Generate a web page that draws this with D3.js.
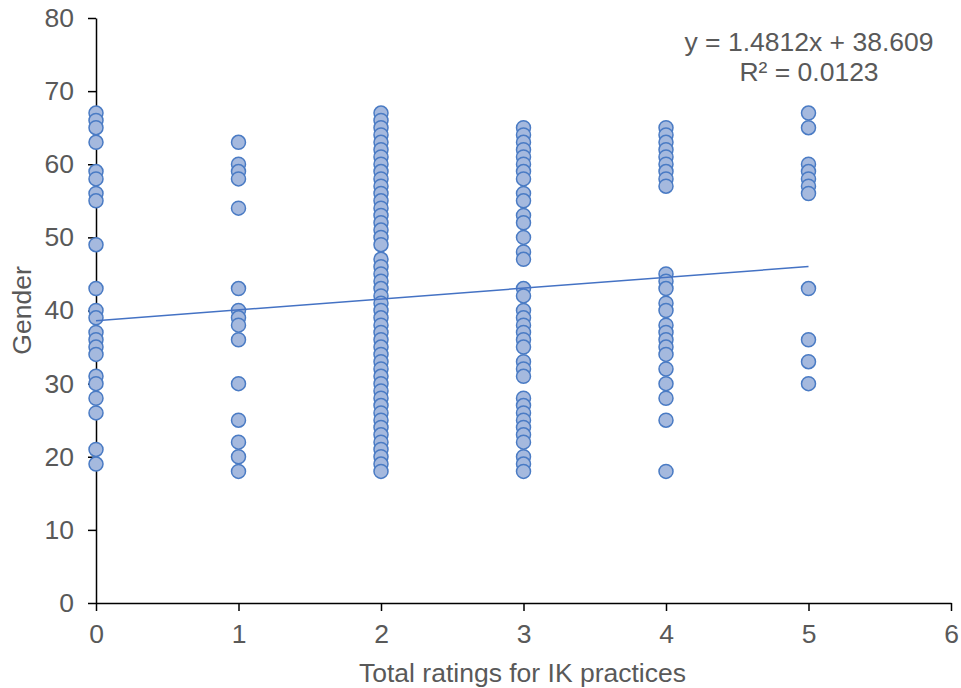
<!DOCTYPE html>
<html>
<head>
<meta charset="utf-8">
<script src="https://cdn.jsdelivr.net/npm/d3@7"></script>
<style>
  body { margin: 0; background: #fff; }
  text { font-family: Arial, "Liberation Sans", sans-serif; fill: #595959; }
</style>
</head>
<body>
<div id="vis"></div>
<script>
const FRAME_WIDTH = 961;
const FRAME_HEIGHT = 688;
const MARGINS = { left: 96, right: 10, top: 18, bottom: 85 };
const FONT = "26.5px";

// ratings (x) with the gender values (y) read for each
const ratings = [0, 1, 2, 3, 4, 5];
const values0 = [67, 66, 65, 63, 59, 58, 56, 55, 49, 43, 40, 39, 37, 36, 35, 34, 31, 30, 28, 26, 21, 19];
const values1 = [63, 60, 59, 58, 54, 43, 40, 39, 38, 36, 30, 25, 22, 20, 18];
const values2 = [67, 66, 65, 64, 63, 62, 61, 60, 59, 58, 57, 56, 55, 54, 53, 52, 51, 50, 49,
  47, 46, 45, 44, 43, 42, 41, 40, 39, 38, 37, 36, 35, 34, 33, 32, 31, 30, 29, 28, 27, 26,
  25, 24, 23, 22, 21, 20, 19, 18];
const values3 = [65, 64, 63, 62, 61, 60, 59, 58, 56, 55, 53, 52, 50, 48, 47, 43, 42, 40, 39,
  38, 37, 36, 35, 33, 32, 31, 28, 27, 26, 25, 24, 23, 22, 20, 19, 18];
const values4 = [65, 64, 63, 62, 61, 60, 59, 58, 57, 45, 44, 43, 41, 40, 38, 37, 36, 35, 34,
  32, 30, 28, 25, 18];
const values5 = [67, 65, 60, 59, 58, 57, 56, 43, 36, 33, 30];
const valueGroups = [values0, values1, values2, values3, values4, values5];

const xTicks = [0, 1, 2, 3, 4, 5, 6];
const yTicks = [0, 10, 20, 30, 40, 50, 60, 70, 80];

// linear trendline from the chart label
const slope = 1.4812;
const intercept = 38.609;
const trendLabel = ["y = 1.4812x + 38.609", "R\u00b2 = 0.0123"];

const points = [];
ratings.forEach((r, i) => {
  valueGroups[i].forEach((v) => points.push({ x: r, y: v }));
});

const VIS_WIDTH = 951 - MARGINS.left;
const VIS_HEIGHT = 603 - MARGINS.top;

const svg = d3.select("#vis")
  .append("svg")
  .attr("width", FRAME_WIDTH)
  .attr("height", FRAME_HEIGHT);

const X_SCALE = d3.scaleLinear().domain([0, 6]).range([0, VIS_WIDTH]);
const Y_SCALE = d3.scaleLinear().domain([0, 80]).range([VIS_HEIGHT, 0]);

const plot = svg.append("g")
  .attr("transform", "translate(" + MARGINS.left + "," + MARGINS.top + ")");

// axes
const xAxis = plot.append("g")
  .attr("transform", "translate(0," + VIS_HEIGHT + ")")
  .call(d3.axisBottom(X_SCALE).tickValues(xTicks).tickFormat(d3.format("d"))
    .tickSize(8).tickSizeOuter(0).tickPadding(13));

const yAxis = plot.append("g")
  .call(d3.axisLeft(Y_SCALE).tickValues(yTicks).tickFormat(d3.format("d"))
    .tickSize(8).tickSizeOuter(0).tickPadding(14));

[xAxis, yAxis].forEach((ax) => {
  ax.select(".domain").attr("stroke", "#000").attr("stroke-width", 1.5);
  ax.selectAll(".tick line").attr("stroke", "#000").attr("stroke-width", 1.5);
  ax.selectAll(".tick text")
    .attr("font-size", FONT)
    .attr("fill", "#595959")
    .style("font-family", "Arial, 'Liberation Sans', sans-serif");
});

// points
plot.selectAll("circle.pt")
  .data(points)
  .enter()
  .append("circle")
  .attr("class", "pt")
  .attr("cx", (d) => X_SCALE(d.x))
  .attr("cy", (d) => Y_SCALE(d.y))
  .attr("r", 7)
  .attr("fill", "#a5b9de")
  .attr("stroke", "#4a7bc4")
  .attr("stroke-width", 1.5);

// trendline
plot.append("line")
  .attr("x1", X_SCALE(0))
  .attr("y1", Y_SCALE(intercept))
  .attr("x2", X_SCALE(5))
  .attr("y2", Y_SCALE(slope * 5 + intercept))
  .attr("stroke", "#4472c4")
  .attr("stroke-width", 1.5);

// trendline label
svg.selectAll("text.eq")
  .data(trendLabel)
  .enter()
  .append("text")
  .attr("class", "eq")
  .attr("x", 809)
  .attr("y", (d, i) => 51 + i * 30)
  .attr("text-anchor", "middle")
  .attr("font-size", FONT)
  .text((d) => d);

// axis titles
svg.append("text")
  .attr("x", MARGINS.left + X_SCALE(3) - 1)
  .attr("y", 682)
  .attr("text-anchor", "middle")
  .attr("font-size", FONT)
  .text("Total ratings for IK practices");

svg.append("text")
  .attr("transform", "translate(31," + (MARGINS.top + VIS_HEIGHT / 2) + ") rotate(-90)")
  .attr("text-anchor", "middle")
  .attr("font-size", FONT)
  .text("Gender");
</script>
</body>
</html>
